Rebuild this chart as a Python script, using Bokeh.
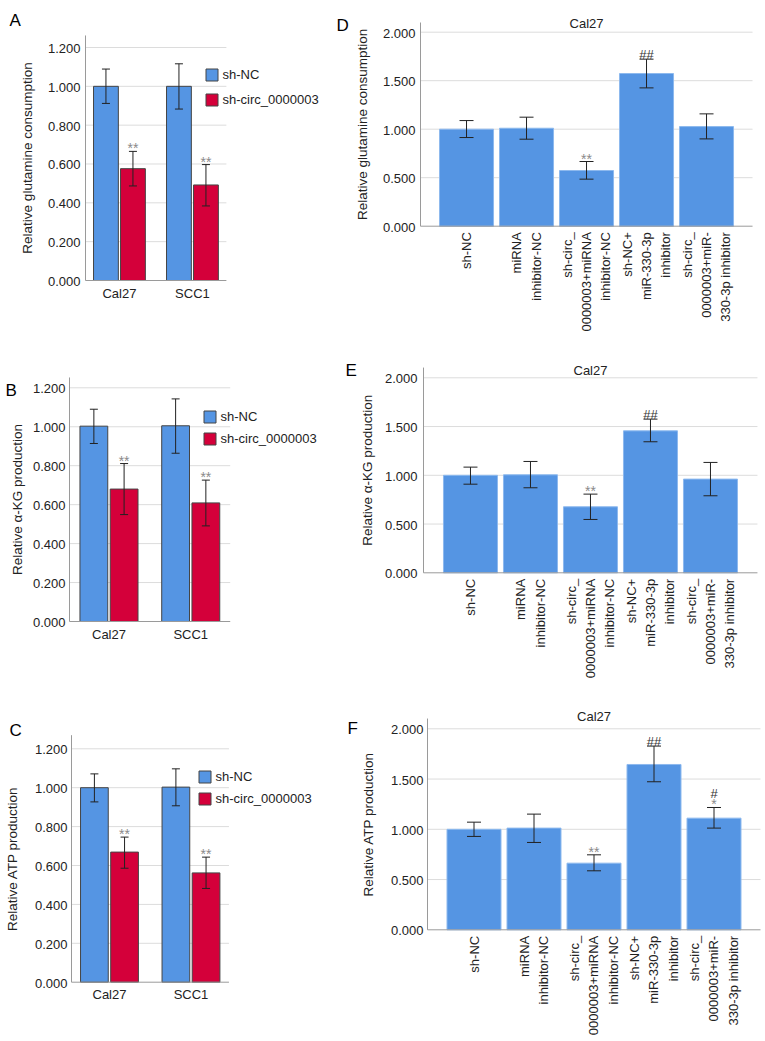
import math
from bokeh.plotting import figure
from bokeh.layouts import row, column
from bokeh.models import ColumnDataSource, Range1d, Whisker, TeeHead, Label
from bokeh.core.properties import value
from bokeh.embed import file_html
from bokeh.resources import INLINE

FONT = "Liberation Sans"
BLUE = "#5595E3"
RED = "#D4003A"
GRID = "#dcdcdc"
AXIS = "#9a9a9a"
TXT = "#222222"

# ---------------- data ----------------
CELL_LINES = ["Cal27", "SCC1"]
SERIES = ["sh-NC", "sh-circ_0000003"]
LEFT_TICKS = [0.0, 0.2, 0.4, 0.6, 0.8, 1.0, 1.2]

A_NC = [1.000, 1.000]
A_NC_LO = [0.912, 0.883]
A_NC_HI = [1.089, 1.116]
A_SH = [0.576, 0.492]
A_SH_LO = [0.487, 0.384]
A_SH_HI = [0.665, 0.597]
A_MARK = ["**", "**"]

B_NC = [1.003, 1.005]
B_NC_LO = [0.914, 0.864]
B_NC_HI = [1.090, 1.143]
B_SH = [0.680, 0.609]
B_SH_LO = [0.549, 0.491]
B_SH_HI = [0.811, 0.726]
B_MARK = ["**", "**"]

C_NC = [1.000, 1.003]
C_NC_LO = [0.927, 0.907]
C_NC_HI = [1.071, 1.097]
C_SH = [0.669, 0.562]
C_SH_LO = [0.586, 0.482]
C_SH_HI = [0.746, 0.643]
C_MARK = ["**", "**"]

TREATMENTS = [
    "sh-NC",
    "miRNA\ninhibitor-NC",
    "sh-circ_\n0000003+miRNA\ninhibitor-NC",
    "sh-NC+\nmiR-330-3p\ninhibitor",
    "sh-circ_\n0000003+miR-\n330-3p inhibitor",
]
RIGHT_TICKS = [0.0, 0.5, 1.0, 1.5, 2.0]
RIGHT_TITLE = "Cal27"

D_VAL = [1.000, 1.010, 0.574, 1.574, 1.027]
D_LO = [0.914, 0.897, 0.485, 1.426, 0.900]
D_HI = [1.089, 1.124, 0.667, 1.722, 1.158]
D_STAR = ["", "", "**", "", ""]
D_HASH = ["", "", "", "##", ""]

E_VAL = [1.000, 1.005, 0.677, 1.456, 0.961]
E_LO = [0.909, 0.872, 0.547, 1.344, 0.790]
E_HI = [1.084, 1.142, 0.807, 1.576, 1.132]
E_STAR = ["", "", "**", "", ""]
E_HASH = ["", "", "", "##", ""]

F_VAL = [1.000, 1.012, 0.663, 1.645, 1.111]
F_LO = [0.929, 0.869, 0.587, 1.473, 1.012]
F_HI = [1.071, 1.151, 0.746, 1.828, 1.217]
F_STAR = ["", "", "**", "", "*"]
F_HASH = ["", "", "", "##", "#"]


def base_fig(W, H, ax, u, y0, s):
    # frame == whole canvas; y axis sits at x=0, baseline at y=0
    p = figure(width=W, height=H, title=None,
               x_range=Range1d(-ax / u, (W - ax) / u),
               y_range=Range1d(-(H - y0) / s, y0 / s),
               x_axis_type=None, y_axis_type=None,
               output_backend="svg", toolbar_location=None, tools="",
               min_border=0, min_border_left=0, min_border_right=0,
               min_border_top=0, min_border_bottom=0)
    p.outline_line_color = None
    p.background_fill_color = "white"
    p.border_fill_color = "white"
    return p


def grid_lines(p, ticks, xmax):
    gt = [t for t in ticks if t > 0]
    p.segment(x0=[0] * len(gt), x1=[xmax] * len(gt), y0=gt, y1=gt,
              line_color=GRID, line_width=1)


def axes(p, ticks, xmax, ytop, tick_so, ytitle, title_dx):
    p.segment(x0=[0, 0], x1=[0, xmax], y0=[0, 0], y1=[ytop, 0],
              line_color=AXIS, line_width=1)
    p.text(x=[0] * len(ticks), y=ticks, text=["%.3f" % t for t in ticks],
           x_offset=-tick_so, y_offset=1, text_align="right", text_baseline="middle",
           text_font=value(FONT), text_font_size="13px", text_color=TXT)
    p.add_layout(Label(x=0, y=ytop / 2, x_offset=title_dx, angle=math.pi / 2,
                       text=ytitle, text_font=FONT, text_font_size="13.5px",
                       text_color=TXT, text_align="center", text_baseline="middle"))


def letter(p, txt, x, y):
    p.add_layout(Label(x=x, y=y, x_units="screen", y_units="screen", text=txt,
                       text_font=FONT, text_font_size="17px", text_color="black",
                       text_align="left", text_baseline="alphabetic"))


def whisker(p, src, base, lo, hi, cap):
    p.add_layout(Whisker(base=base, lower=lo, upper=hi, source=src, dimension="height",
                         line_color="#222222", line_width=1, level="overlay",
                         upper_head=TeeHead(size=cap, line_color="#222222", line_width=1),
                         lower_head=TeeHead(size=cap, line_color="#222222", line_width=1)))


def left_panel(txt, ytitle, nc, nc_lo, nc_hi, sh, sh_lo, sh_hi, marks, g):
    p = base_fig(g["W"], g["H"], g["ax"], g["u"], g["y0"], g["s"])
    pad, off, bw = g["pad"], 0.185, 0.34
    xc = [i + 0.5 + pad for i in range(len(CELL_LINES))]
    xmax = len(CELL_LINES) + 2 * pad
    src = ColumnDataSource(dict(
        xc=xc, xb=[x - off for x in xc], xr=[x + off for x in xc],
        nc=nc, nc_lo=nc_lo, nc_hi=nc_hi, sh=sh, sh_lo=sh_lo, sh_hi=sh_hi, mark=marks))
    grid_lines(p, LEFT_TICKS, xmax)
    p.vbar(x="xb", top="nc", width=bw, source=src, fill_color=BLUE,
           line_color="#454545", line_width=1, legend_label=SERIES[0])
    p.vbar(x="xr", top="sh", width=bw, source=src, fill_color=RED,
           line_color="#454545", line_width=1, legend_label=SERIES[1])
    axes(p, LEFT_TICKS, xmax, g["ytop"], g["tso"], ytitle, g["tdx"])
    whisker(p, src, "xb", "nc_lo", "nc_hi", 8)
    whisker(p, src, "xr", "sh_lo", "sh_hi", 8)
    p.text(x="xr", y="sh_hi", text="mark", source=src, text_align="center",
           text_baseline="alphabetic", y_offset=-3, text_font=value(FONT),
           text_font_size="14px", text_color="#8a8a8a")
    p.text(x=xc, y=[0] * len(CELL_LINES), text=CELL_LINES, y_offset=5,
           text_align="center", text_baseline="top", text_font=value(FONT),
           text_font_size="13px", text_color=TXT)
    lg = p.legend[0]
    lg.location = g["leg"]
    lg.padding = 0
    lg.margin = 0
    lg.spacing = g["lsp"]
    lg.glyph_width = 15
    lg.glyph_height = 15
    lg.label_height = 15
    lg.label_standoff = 4
    lg.border_line_color = None
    lg.background_fill_alpha = 0
    lg.label_text_font = FONT
    lg.label_text_font_size = "13px"
    lg.label_text_color = TXT
    letter(p, txt, *g["let"])
    return p


def right_panel(txt, ytitle, vals, lo, hi, stars, hashes, g):
    p = base_fig(g["W"], g["H"], g["ax"], g["u"], g["y0"], g["s"])
    pad = g["pad"]
    n = len(TREATMENTS)
    xc = [i + 0.5 + pad for i in range(n)]
    xmax = n + 2 * pad
    hash_dy = [-14 if s else -5 for s in stars]
    src = ColumnDataSource(dict(x=xc, v=vals, lo=lo, hi=hi, star=stars,
                                hash=hashes, hdy=hash_dy))
    grid_lines(p, RIGHT_TICKS, xmax)
    p.vbar(x="x", top="v", width=0.9, source=src, fill_color=BLUE,
           line_color="#8db9ee", line_width=1)
    axes(p, RIGHT_TICKS, xmax, g["ytop"], g["tso"], ytitle, g["tdx"])
    whisker(p, src, "x", "lo", "hi", 14)
    p.text(x="x", y="hi", text="star", source=src, text_align="center",
           text_baseline="alphabetic", y_offset=-3, text_font=value(FONT),
           text_font_size="14px", text_color="#8a8a8a")
    p.text(x="x", y="hi", text="hash", source=src, text_align="center",
           text_baseline="alphabetic", y_offset="hdy", text_font=value(FONT),
           text_font_size="13px", text_color="#333333")
    p.text(x=xc, y=[0] * n, text=TREATMENTS, y_offset=6, angle=math.pi / 2,
           text_align="right", text_baseline="middle", text_line_height=1.28,
           text_font=value(FONT), text_font_size="13px", text_color=TXT)
    p.add_layout(Label(x=xmax / 2, y=g["cy"], text=RIGHT_TITLE, text_font=FONT,
                       text_font_size="13px", text_color=TXT,
                       text_align="center", text_baseline="middle"))
    letter(p, txt, *g["let"])
    return p


# page layout: left column x 0..334, right column x 334..765 (canvas = page pixels)
GA = dict(W=334, H=330, ax=85, u=73.0, pad=-0.035, y0=280.0, s=194.17, ytop=1.262,
          tso=5, tdx=-58, leg=(203.5, 223.5), lsp=10, let=(9, 310))
GB = dict(W=334, H=350, ax=69, u=81.75, pad=-0.017, y0=291.0, s=194.75, ytop=1.253,
          tso=4, tdx=-52, leg=(201.5, 234.5), lsp=7, let=(5, 290))
GC = dict(W=334, H=361, ax=71, u=81.5, pad=-0.034, y0=301.7, s=194.5, ytop=1.27,
          tso=4, tdx=-59, leg=(196.5, 235.5), lsp=7, let=(9, 311))
GD = dict(W=431, H=345, ax=86, u=60.0, pad=0.267, y0=225.7, s=97.0, ytop=2.1,
          tso=5, tdx=-58, cy=2.09, let=(2, 320.5))
GE = dict(W=431, H=345, ax=89, u=60.0, pad=0.283, y0=227.3, s=97.5, ytop=2.105,
          tso=6, tdx=-56, cy=2.075, let=(11, 320))
GF = dict(W=431, H=351, ax=93, u=60.0, pad=0.275, y0=239.3, s=100.5, ytop=2.102,
          tso=4, tdx=-59, cy=2.122, let=(13, 313))

pA = left_panel("A", "Relative glutamine consumption", A_NC, A_NC_LO, A_NC_HI,
                A_SH, A_SH_LO, A_SH_HI, A_MARK, GA)
pB = left_panel("B", "Relative α-KG production", B_NC, B_NC_LO, B_NC_HI,
                B_SH, B_SH_LO, B_SH_HI, B_MARK, GB)
pC = left_panel("C", "Relative ATP production", C_NC, C_NC_LO, C_NC_HI,
                C_SH, C_SH_LO, C_SH_HI, C_MARK, GC)
pD = right_panel("D", "Relative glutamine consumption", D_VAL, D_LO, D_HI, D_STAR, D_HASH, GD)
pE = right_panel("E", "Relative α-KG production", E_VAL, E_LO, E_HI, E_STAR, E_HASH, GE)
pF = right_panel("F", "Relative ATP production", F_VAL, F_LO, F_HI, F_STAR, F_HASH, GF)

layout = row(column(pA, pB, pC), column(pD, pE, pF))
open("out.html", "w").write(file_html(layout, INLINE))
